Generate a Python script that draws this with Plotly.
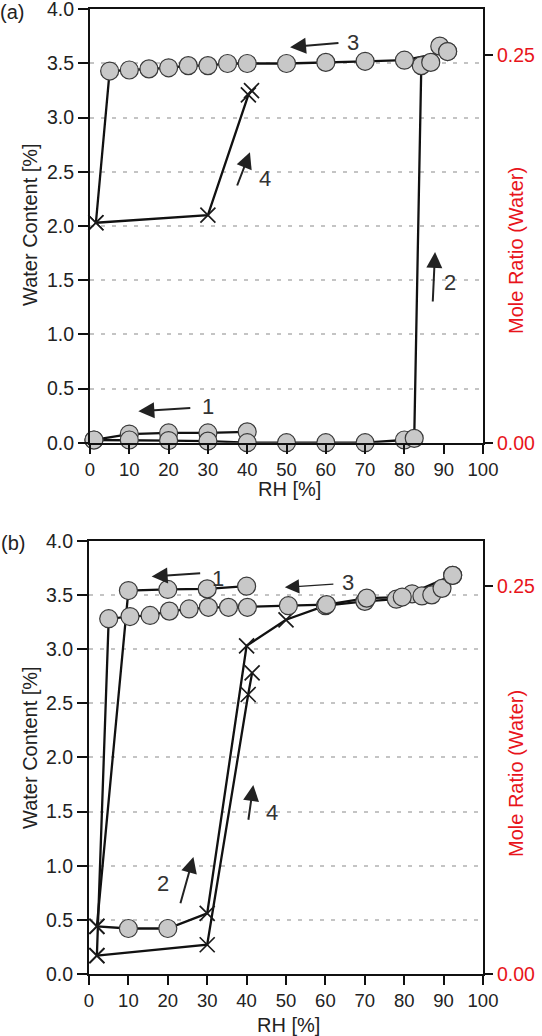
import plotly.graph_objects as go

# ---------------- data : panel (a) ----------------
a_step1_rh = [40, 30, 20, 10, 1]
a_step1_wc = [0.10, 0.09, 0.09, 0.08, 0.025]
a_step1_kind = ["o", "o", "o", "o", "o"]

a_step2_rh = [1, 10, 20, 30, 40, 50, 60, 70, 80, 82.5, 84.3, 86.7, 89, 91]
a_step2_wc = [0.025, 0.025, 0.02, 0.015, 0.0, 0.0, 0.0, 0.0, 0.025, 0.04, 3.48, 3.51, 3.66, 3.61]
a_step2_kind = ["o"] * 14

a_step3_rh = [91, 80, 70, 60, 50, 40, 35, 30, 25, 20, 15, 10, 5, 1.5]
a_step3_wc = [3.61, 3.53, 3.52, 3.51, 3.50, 3.50, 3.50, 3.48, 3.48, 3.46, 3.45, 3.44, 3.43, 2.03]
a_step3_kind = ["o"] * 13 + ["x"]

a_step4_rh = [1.5, 30, 40.3, 41.1]
a_step4_wc = [2.03, 2.10, 3.21, 3.25]
a_step4_kind = ["x", "x", "x", "x"]

# ---------------- data : panel (b) ----------------
b_step1_rh = [40, 30, 20, 10, 2]
b_step1_wc = [3.58, 3.555, 3.55, 3.54, 0.44]
b_step1_kind = ["o", "o", "o", "o", "x"]

b_step2_rh = [2, 10, 20, 30, 40, 50, 60, 70, 78, 82, 84.5, 87, 89.6, 92.3]
b_step2_wc = [0.44, 0.42, 0.42, 0.56, 3.03, 3.27, 3.40, 3.44, 3.46, 3.51, 3.49, 3.50, 3.56, 3.68]
b_step2_kind = ["x", "o", "o", "x", "x", "x", "o", "o", "o", "o", "o", "o", "o", "o"]

b_step3_rh = [92.3, 79.5, 70.5, 60.3, 50.6, 40.2, 35.4, 30.3, 25.4, 20.4, 15.5, 10.4, 5, 2]
b_step3_wc = [3.68, 3.48, 3.47, 3.41, 3.40, 3.385, 3.385, 3.385, 3.37, 3.35, 3.31, 3.30, 3.28, 0.17]
b_step3_kind = ["o"] * 13 + ["x"]

b_step4_rh = [2, 30, 40.4, 41.4]
b_step4_wc = [0.17, 0.27, 2.58, 2.78]
b_step4_kind = ["x", "x", "x", "x"]

# arrows: (label, tail_rh, tail_wc, head_rh, head_wc, text_rh, text_wc)
a_arrows = [
    ("1", 25.9, 0.32, 12.3, 0.29, 30.0, 0.33),
    ("2", 87.2, 1.29, 87.8, 1.76, 91.6, 1.48),
    ("3", 63.6, 3.69, 50.9, 3.65, 66.9, 3.69),
    ("4", 37.3, 2.36, 40.7, 2.68, 44.5, 2.44),
]
b_arrows = [
    ("1", 28.6, 3.70, 15.9, 3.67, 32.7, 3.65),
    ("2", 23.1, 0.64, 26.5, 1.08, 18.9, 0.84),
    ("3", 62.4, 3.60, 49.7, 3.57, 65.8, 3.61),
    ("4", 40.4, 1.41, 41.7, 1.745, 46.4, 1.49),
]
b_thin_arrow = "3"

x_ticks = list(range(0, 101, 10))
mole_ticks = [0.0, 0.25]
mole_ticktext = ["0.00", "0.25"]

# ---------------- figure ----------------
W, H = 542, 1036
FONT = "Liberation Sans, Arial, sans-serif"
RED = "#e8141b"
fig = go.Figure()

panels = [
    dict(xa="x", ya="y", ya2="y2", steps=[(a_step1_rh, a_step1_wc, a_step1_kind),
                                           (a_step2_rh, a_step2_wc, a_step2_kind),
                                           (a_step3_rh, a_step3_wc, a_step3_kind),
                                           (a_step4_rh, a_step4_wc, a_step4_kind)]),
    dict(xa="x2", ya="y3", ya2="y4", steps=[(b_step1_rh, b_step1_wc, b_step1_kind),
                                             (b_step2_rh, b_step2_wc, b_step2_kind),
                                             (b_step3_rh, b_step3_wc, b_step3_kind),
                                             (b_step4_rh, b_step4_wc, b_step4_kind)]),
]

for p in panels:
    # invisible trace so the secondary (mole ratio) axis is built
    fig.add_trace(go.Scatter(x=[0, 0], y=mole_ticks, mode="markers", xaxis=p["xa"], yaxis=p["ya2"],
                             marker=dict(opacity=0), showlegend=False, hoverinfo="skip"))
    for rh, wc, kind in p["steps"]:
        fig.add_trace(go.Scatter(x=rh, y=wc, mode="lines", xaxis=p["xa"], yaxis=p["ya"],
                                 line=dict(color="#111111", width=2.3),
                                 cliponaxis=False, showlegend=False, hoverinfo="skip"))
    for rh, wc, kind in p["steps"]:
        cx = [r for r, k in zip(rh, kind) if k == "x"]
        cy = [w for w, k in zip(wc, kind) if k == "x"]
        ox = [r for r, k in zip(rh, kind) if k == "o"]
        oy = [w for w, k in zip(wc, kind) if k == "o"]
        if cx:
            fig.add_trace(go.Scatter(x=cx, y=cy, mode="markers", xaxis=p["xa"], yaxis=p["ya"],
                                     marker=dict(symbol="x-thin", size=15,
                                                 line=dict(color="#1a1a1a", width=1.7)),
                                     cliponaxis=False, showlegend=False, hoverinfo="skip"))
        if ox:
            fig.add_trace(go.Scatter(x=ox, y=oy, mode="markers", xaxis=p["xa"], yaxis=p["ya"],
                                     marker=dict(symbol="circle", size=18, color="#c8c8c8",
                                                 line=dict(color="#3a3a3a", width=1.2)),
                                     cliponaxis=False, showlegend=False, hoverinfo="skip"))

xa_dom = [90 / W, 483 / W]
xb_dom = [89 / W, 483 / W]
ya_dom = [1 - 442.7 / H, 1 - 9.3 / H]
yb_dom = [1 - 974 / H, 1 - 540.7 / H]

ytickfont = dict(family=FONT, size=19.5, color="#222222")
xtickfont = dict(family=FONT, size=18.5, color="#222222")


def xaxis(dom, anchor):
    return dict(domain=dom, anchor=anchor, range=[0, 100], tickvals=x_ticks,
                ticks="outside", ticklen=9, tickwidth=2, tickcolor="#111111",
                showline=True, linewidth=2, linecolor="#111111", mirror=True,
                showgrid=False, zeroline=False, tickfont=xtickfont, automargin=False,
                ticklabeloverflow="allow")


def yaxis(dom, anchor):
    return dict(domain=dom, anchor=anchor, range=[0, 4], dtick=0.5, tickformat=".1f",
                ticks="outside", ticklen=10, tickwidth=2, tickcolor="#111111",
                showline=True, linewidth=2, linecolor="#111111",
                showgrid=True, gridcolor="#c4c4c4", gridwidth=1.5, griddash="4px,7px",
                zeroline=False, tickfont=ytickfont, automargin=False,
                ticklabeloverflow="allow")


def y2axis(over, anchor):
    return dict(overlaying=over, anchor=anchor, side="right", range=[0, 0.25 * 4 / 3.58],
                tickvals=mole_ticks, ticktext=mole_ticktext,
                ticks="outside", ticklen=8, tickwidth=2, tickcolor="#111111",
                showline=True, linewidth=2, linecolor="#111111",
                showgrid=False, zeroline=False, automargin=False,
                ticklabeloverflow="allow",
                tickfont=dict(family=FONT, size=19.5, color=RED))


annotations = []


def arrows(lst, xr, yr, thin=None):
    for lab, tx, ty, hx, hy, lx, ly in lst:
        w = 1.2 if lab == thin else 2
        annotations.append(dict(x=hx, y=hy, ax=tx, ay=ty, xref=xr, yref=yr, axref=xr, ayref=yr,
                                text="", showarrow=True, arrowhead=2, arrowsize=1.6 if w == 2 else 2.4,
                                arrowwidth=w, arrowcolor="#222222"))
        annotations.append(dict(x=lx, y=ly, xref=xr, yref=yr, text=lab, showarrow=False,
                                font=dict(family=FONT, size=22, color="#333333"),
                                xanchor="center", yanchor="middle"))


arrows(a_arrows, "x", "y")
arrows(b_arrows, "x2", "y3", thin=b_thin_arrow)


def paper_text(txt, px, py, size=20, color="#222222", angle=0):
    annotations.append(dict(x=px / W, y=1 - py / H, xref="paper", yref="paper", text=txt,
                            showarrow=False, textangle=angle, xanchor="center", yanchor="middle",
                            font=dict(family=FONT, size=size, color=color)))


paper_text("(a)", 12, 12)
paper_text("(b)", 13, 543)
paper_text("Water Content [%]", 30, 225, angle=-90)
paper_text("Water Content [%]", 30, 748, angle=-90)
paper_text("RH [%]", 289, 489)
paper_text("RH [%]", 288, 1025)
paper_text("Mole Ratio (Water)", 516, 251, color=RED, angle=-90)
paper_text("Mole Ratio (Water)", 516, 774, color=RED, angle=-90)

fig.update_layout(
    width=W, height=H, margin=dict(l=0, r=0, t=0, b=0),
    paper_bgcolor="white", plot_bgcolor="white", showlegend=False,
    xaxis=xaxis(xa_dom, "y"), yaxis=yaxis(ya_dom, "x"), yaxis2=y2axis("y", "x"),
    xaxis2=xaxis(xb_dom, "y3"), yaxis3=yaxis(yb_dom, "x2"), yaxis4=y2axis("y3", "x2"),
    annotations=annotations,
)

fig.write_html("out.html", config={"displayModeBar": False},
               post_script="document.body.style.margin='0px';")
